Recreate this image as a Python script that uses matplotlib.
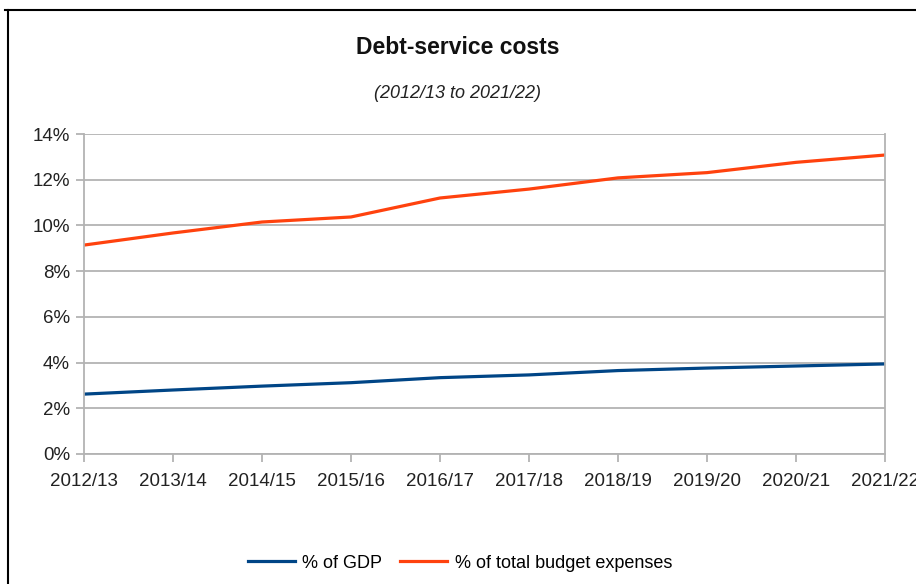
import numpy as np
import matplotlib
matplotlib.use('Agg')
import matplotlib.pyplot as plt
from matplotlib.lines import Line2D
from matplotlib.ticker import FuncFormatter

years = ["2012/13", "2013/14", "2014/15", "2015/16", "2016/17",
         "2017/18", "2018/19", "2019/20", "2020/21", "2021/22"]
pct_gdp = [2.62, 2.80, 2.97, 3.12, 3.34, 3.46, 3.65, 3.76, 3.85, 3.94]
pct_budget = [9.14, 9.67, 10.15, 10.37, 11.20, 11.59, 12.08, 12.31, 12.76, 13.08]

label1 = '% of GDP'
label2 = '% of total budget expenses'

plt.rcParams['font.family'] = ['Liberation Sans', 'DejaVu Sans']

fig = plt.figure(figsize=(9.16, 5.84), dpi=100)
ax = fig.add_axes([84/916, 130/584, 801/916, 320/584])

index = np.arange(len(years))
ax.plot(index, pct_gdp, color='#004586', lw=2.3, label=label1)
ax.plot(index, pct_budget, color='#ff420e', lw=2.3, label=label2)

ax.set_xlim(0, len(years) - 1)
ax.set_ylim(0, 14)
ax.set_yticks(np.arange(0, 15, 2))
ax.yaxis.set_major_formatter(FuncFormatter(lambda v, p: '%d%%' % v))
ax.set_xticks(index)
ax.set_xticklabels(years)
ax.grid(axis='y', color='#b3b3b3', lw=1.3)
ax.set_axisbelow(True)
for s in ax.spines.values():
    s.set_color('#b3b3b3')
    s.set_linewidth(1.3)
ax.spines['top'].set_visible(False)
ax.tick_params(axis='both', colors='#b3b3b3', length=6, width=1.3,
               labelcolor='#222222', labelsize=13.5)
ax.tick_params(axis='x', pad=8)
ax.tick_params(axis='y', pad=4)

fig.text(0.5, 1 - 47/584, 'Debt-service costs', ha='center', va='center',
         fontsize=16.5, fontweight='bold', color='#111111')
fig.text(0.5, 1 - 93/584, '(2012/13 to 2021/22)', ha='center', va='center',
         fontsize=13, style='italic', color='#222222')

fig.legend(loc='center', bbox_to_anchor=(460/916, 1 - 563/584), ncol=2,
           frameon=False, fontsize=13, handlelength=2.6, handletextpad=0.4,
           columnspacing=1.0)

# outer frame (left and top edges visible)
fig.add_artist(Line2D([8/916, 8/916], [0, 1 - 10/584], color='black', lw=1.5,
                      transform=fig.transFigure))
fig.add_artist(Line2D([5/916, 1], [1 - 10/584, 1 - 10/584], color='black', lw=1.5,
                      transform=fig.transFigure))

fig.savefig('out.png', dpi=100)
plt.close(fig)
